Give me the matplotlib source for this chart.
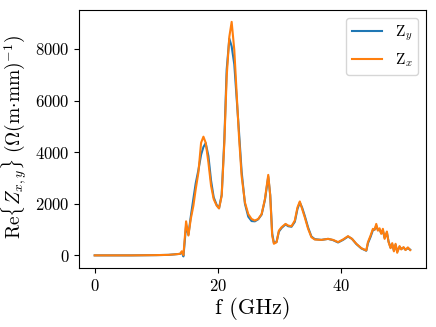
import matplotlib
matplotlib.use("Agg")
import matplotlib.pyplot as plt

plt.rcParams['font.family'] = 'serif'
plt.rcParams['font.serif'] = ['cmr10', 'DejaVu Serif']
plt.rcParams['mathtext.fontset'] = 'cm'
plt.rcParams['axes.formatter.use_mathtext'] = True
plt.rcParams['axes.unicode_minus'] = False

freq = [0, 2, 4, 6, 8, 10, 12.0, 13.0, 13.89, 14.16, 14.43, 14.86, 15.24, 15.62,
        16.05, 16.43, 16.86, 17.30, 17.68, 18.05, 18.49, 18.92, 19.35, 19.84,
        20.22, 20.65, 21.08, 21.46, 21.89, 22.27, 22.70, 23.08, 23.46, 23.89,
        24.43, 24.97, 25.51, 26.05, 26.59, 27.14, 27.68, 28.22, 28.54, 28.86,
        29.14, 29.57, 29.95, 30.38, 31.03, 31.46, 32.0, 32.54, 32.97, 33.35,
        33.73, 34.16, 34.70, 35.24, 35.78, 36.86, 37.95, 38.76, 39.57, 40.38,
        41.19, 41.84, 42.54, 43.35, 44.16, 44.43, 44.86, 45.24, 45.51, 45.78,
        46.05, 46.32, 46.59, 46.86, 47.14, 47.51, 47.78, 48.11, 48.38, 48.65,
        48.92, 49.19, 49.57, 49.84, 50.22, 50.54, 50.92, 51.30]

z_x = [0, 0, 0, 0, 5, 10, 20, 40, 60, 160, 10, 1320, 770, 1410,
       1925, 2570, 3210, 4365, 4600, 4365, 3600, 2700, 2180, 1925,
       1820, 2310, 4365, 6930, 8470, 9050, 7960, 6290, 4620, 3080,
       2050, 1600, 1410, 1350, 1410, 1600, 2180, 3120, 2310, 770,
       450, 510, 960, 1090, 1220, 1155, 1130, 1350, 1860, 2090,
       1800, 1475, 1030, 705, 615, 600, 640, 600, 515, 615,
       745, 640, 450, 280, 190, 515, 770, 1030, 990, 1220,
       960, 1050, 835, 1030, 640, 925, 515, 280, 475, 155,
       450, 100, 360, 230, 320, 205, 310, 205]

z_y = [0, 0, 0, 0, 5, 10, 20, 40, 60, 120, -40, 1150, 800, 1500,
       2200, 2800, 3300, 3900, 4200, 4350, 3850, 2900, 2250, 1950,
       1830, 2350, 4500, 7200, 8400, 8100, 7400, 6100, 4800, 3250,
       2000, 1500, 1330, 1320, 1400, 1580, 2150, 3050, 2350, 850,
       480, 520, 920, 1060, 1200, 1130, 1110, 1300, 1800, 2050,
       1850, 1530, 1080, 730, 630, 600, 640, 590, 500, 600,
       730, 640, 440, 270, 180, 470, 720, 980, 1000, 1150,
       980, 1000, 860, 960, 680, 880, 540, 300, 430, 190,
       410, 150, 330, 250, 300, 220, 280, 220]

fig = plt.figure(figsize=(4.36, 3.27), dpi=100)
ax = fig.add_axes([0.181, 0.180, 0.796, 0.789])
ax.plot(freq, z_y, color='#1f77b4', lw=1.5, label=r'$\mathrm{Z}_y$')
ax.plot(freq, z_x, color='#ff7f0e', lw=1.5, label=r'$\mathrm{Z}_x$')
ax.set_xticks([0, 20, 40])
ax.set_yticks([0, 2000, 4000, 6000, 8000])
ax.tick_params(labelsize=12)
ax.set_xlabel('f (GHz)', fontsize=16, labelpad=2)
ax.set_ylabel(r'$\mathrm{Re}\{Z_{x,y}\}\ (\Omega(\mathrm{m}{\cdot}\mathrm{mm})^{-1})$',
              fontsize=14)
ax.yaxis.set_label_coords(-0.143, 0.51)
ax.legend(loc='upper right', fontsize=11)
fig.savefig('out.png', dpi=100)
